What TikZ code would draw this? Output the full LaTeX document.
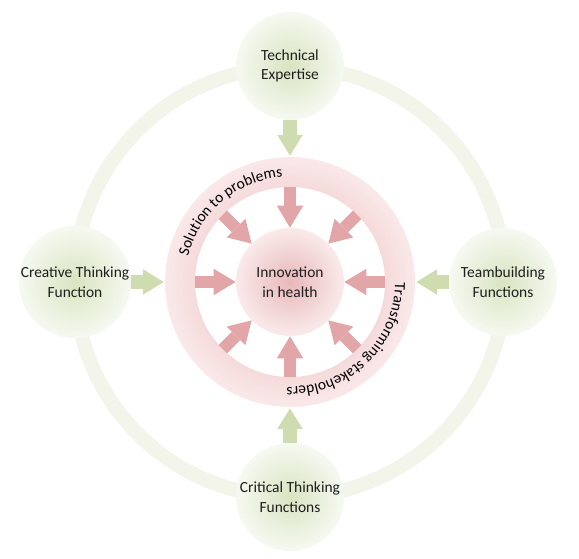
\documentclass[tikz,border=0pt]{standalone}
\usepackage{fontspec}
\setmainfont{Carlito}
\usetikzlibrary{arrows.meta,decorations.text}

\definecolor{orbitgreen}{RGB}{243,245,235}
\definecolor{leafin}{RGB}{216,228,193}
\definecolor{leafout}{RGB}{246,249,241}
\definecolor{leafarrow}{RGB}{206,220,176}
\definecolor{bandin}{RGB}{245,218,219}
\definecolor{bandout}{RGB}{250,233,233}
\definecolor{hubin}{RGB}{232,184,186}
\definecolor{hubout}{RGB}{250,234,234}
\definecolor{hubarrow}{RGB}{226,166,168}
\definecolor{ink}{RGB}{30,30,30}

\pgfdeclareradialshading{pinkband}{\pgfpoint{0bp}{0bp}}{color(0bp)=(bandin);color(19bp)=(bandin);color(25bp)=(bandout);color(50bp)=(bandout)}

\newcommand\ringfont{\fontsize{11}{13}\selectfont}

\begin{document}
\begin{tikzpicture}[x=0.025cm, y=0.025cm,
                    font=\fontsize{11}{14}\selectfont, text=ink,
                    leaf/.style={circle, minimum size=2.7cm, inner sep=0pt, align=center, inner color=leafin, outer color=leafout},
                    hub/.style={circle, minimum size=2.7cm, inner sep=0pt, align=center, inner color=hubin, outer color=hubout},
                    greenarrow/.style={leafarrow, line width=0.33cm, -{Triangle[width=0.64cm, length=0.52cm, line width=0pt]}},
                    pinkarrow/.style={hubarrow, line width=0.3cm, -{Triangle[width=0.66cm, length=0.55cm, line width=0pt]}}]
    \useasboundingbox (-290,-277) rectangle (289,282);
    % outer orbit
    \draw[orbitgreen, line width=0.36cm] (0,0) circle (215);
    % pink band
    \node[circle, minimum size=6.3cm, inner sep=0pt] (ring) at (0,0) {};
    \shade[shading=pinkband, even odd rule] (ring.center) circle (125) circle (95);
    \path[decorate, decoration={text along path, text align=center,
          text={|\ringfont|Solution to problems}}]
          (ring.center) ++(185:105) arc[start angle=185, end angle=75, radius=105];
    \path[decorate, decoration={text along path, text align=center,
          text={|\ringfont|Transforming stakeholders}}]
          (ring.center) ++(15:105) arc[start angle=15, end angle=-107, radius=105];
    % centre
    \node[hub] (innov) at (0,0) {Innovation\\in health};
    % functions
    \node[leaf] (tech) at (0,216) {Technical\\Expertise};
    \node[leaf] (creative) at (-215,0) {Creative Thinking\\Function};
    \node[leaf] (team) at (213,0) {Teambuilding\\Functions};
    \node[leaf] (critical) at (0,-215) {Critical Thinking\\Functions};
    % arrows
    \foreach \n in {tech,creative,team,critical}
        \draw[greenarrow] (\n) -- (ring);
    \foreach \a in {0,45,...,315} {
        \coordinate (p\a) at (\a:95);
        \draw[pinkarrow] (p\a) -- (innov);
    }
\end{tikzpicture}
\end{document}
